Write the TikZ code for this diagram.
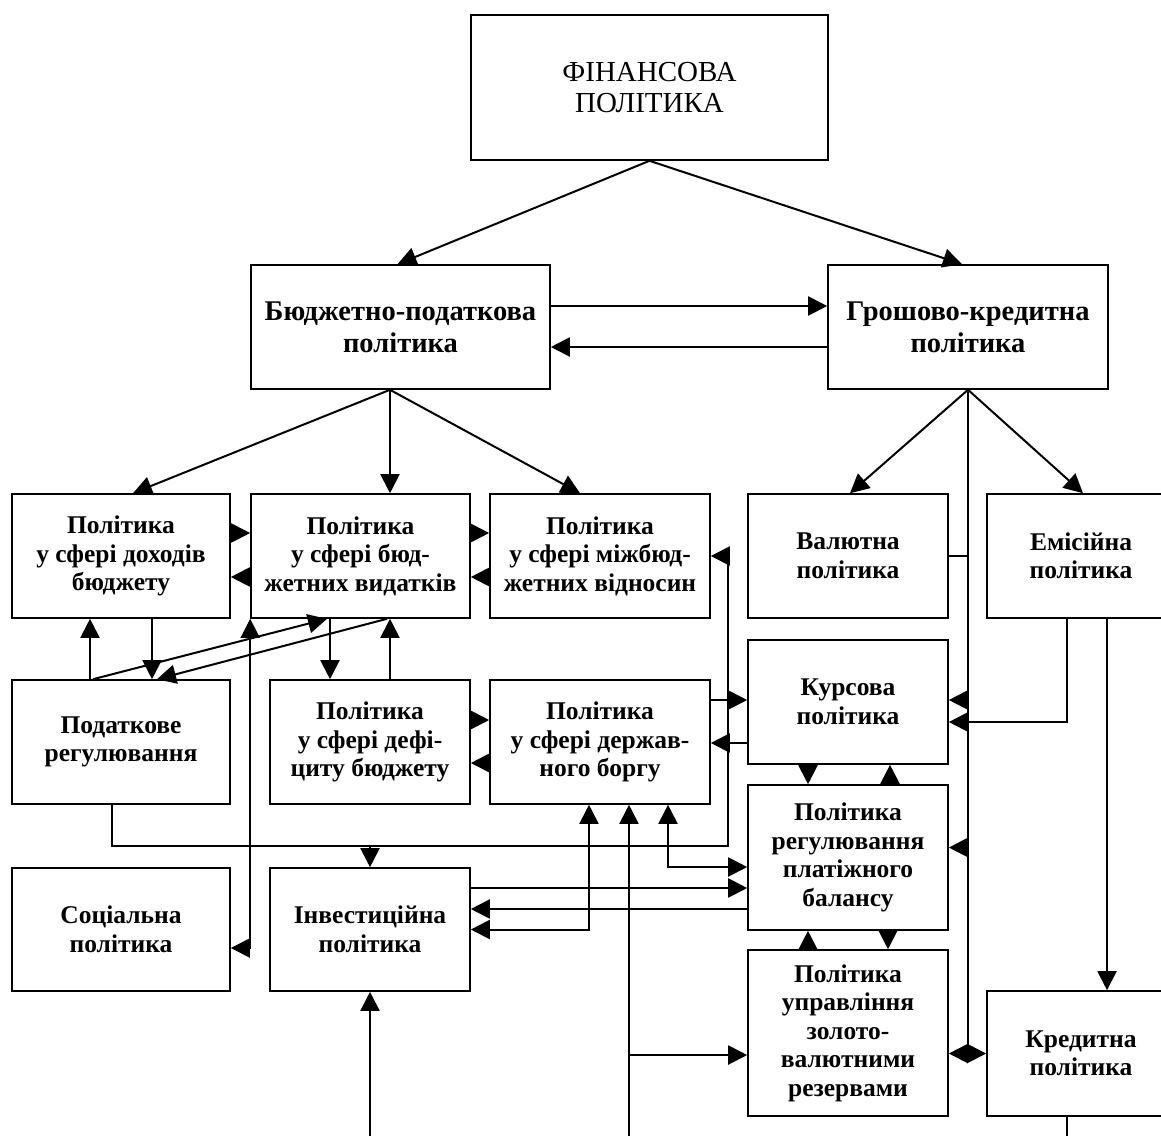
\documentclass[tikz,border=0pt]{standalone}
\usepackage{fontspec}
\setmainfont{Liberation Serif}
\usetikzlibrary{arrows.meta,calc}
\begin{document}
\begin{tikzpicture}[x=1pt,y=-1pt,
  box/.style={draw, line width=1.6pt, align=center, inner sep=0pt, font=\bfseries\fontsize{25.5}{28.5}\selectfont},
  bigbox/.style={box, font=\bfseries\fontsize{28.5}{32}\selectfont},
  arr/.style={line width=2pt, -{Triangle[length=19pt,width=19pt]}},
  arrb/.style={line width=2pt, {Triangle[length=19pt,width=19pt]}-{Triangle[length=19pt,width=19pt]}},
  ln/.style={line width=1.6pt}]
\useasboundingbox (0,0) rectangle (1161,1135);
\fill[white] (0,0) rectangle (1161,1135);

% boxes
\node[box, font=\fontsize{29}{31}\selectfont, minimum width=357pt, minimum height=145pt] (fin) at (649.5,87.5) {ФІНАНСОВА\\ПОЛІТИКА};
\node[bigbox, minimum width=299pt, minimum height=124pt] (bud) at (400.5,327) {Бюджетно-податкова\\політика};
\node[bigbox, minimum width=280pt, minimum height=124pt] (gro) at (968,327) {Грошово-кредитна\\політика};
\node[box, minimum width=218pt, minimum height=124pt] (doh) at (121,556) {Політика\\у сфері доходів\\бюджету};
\node[box, minimum width=219pt, minimum height=124pt] (vyd) at (360.5,556) {Політика\\у сфері бюд-\\жетних видатків};
\node[box, minimum width=220pt, minimum height=124pt] (mbj) at (600,556) {Політика\\у сфері міжбюд-\\жетних відносин};
\node[box, minimum width=200pt, minimum height=124pt] (val) at (848,556) {Валютна\\політика};
\node[box, minimum width=188pt, minimum height=124pt] (emi) at (1081,556) {Емісійна\\політика};
\node[box, minimum width=200pt, minimum height=124pt] (kur) at (848,702) {Курсова\\політика};
\node[box, minimum width=218pt, minimum height=124pt] (pod) at (121,742) {Податкове\\регулювання};
\node[box, minimum width=200pt, minimum height=124pt] (def) at (370,742) {Політика\\у сфері дефі-\\циту бюджету};
\node[box, minimum width=220pt, minimum height=124pt] (drz) at (600,742) {Політика\\у сфері держав-\\ного боргу};
\node[box, minimum width=200pt, minimum height=145pt] (pla) at (848,857.5) {Політика\\регулювання\\платіжного\\балансу};
\node[box, minimum width=218pt, minimum height=123pt] (soc) at (121,929.5) {Соціальна\\політика};
\node[box, minimum width=200pt, minimum height=123pt] (inv) at (370,929.5) {Інвестиційна\\політика};
\node[box, minimum width=200pt, minimum height=166pt] (zol) at (848,1033) {Політика\\управління\\золото-\\валютними\\резервами};
\node[box, minimum width=188pt, minimum height=125pt] (kre) at (1081,1053.5) {Кредитна\\політика};

\coordinate (bot) at (0,1145);

% top level
\draw[arr] (fin.south) -- ([xshift=-3pt]bud.north);
\draw[arr] (fin.south) -- ([xshift=-6pt]gro.north);
\draw[arr] ([yshift=21pt]bud.east) -- ([yshift=21pt]gro.west);
\draw[arr] ([yshift=-20pt]gro.west) -- ([yshift=-20pt]bud.east);

% budget branch
\coordinate (bs) at ([xshift=-10.5pt]bud.south);
\draw[arr] (bs) -- ([xshift=12pt]doh.north);
\draw[arr] (bs) -- (bs |- vyd.north);
\draw[arr] (bs) -- ([xshift=-20pt]mbj.north);

% monetary branch
\draw[arr] (gro.south) -- ([xshift=2pt]val.north);
\draw[arr] (gro.south) -- ([xshift=2pt]emi.north);
\coordinate (vd) at (gro.south |- kre.west);
\draw[ln] (gro.south) -- (vd);
\draw[ln] (val.east) -- (val.east -| gro.south);
\coordinate (kue) at ([yshift=2pt]kur.east);
\draw[arr] (kue -| gro.south) -- (kue);
\coordinate (pe) at ([yshift=10pt]pla.east);
\draw[arr] (pe -| gro.south) -- (pe);
\draw[arr] (vd) -- (vd -| zol.east);
\draw[arr] (vd) -- (kre.west);

% emission
\coordinate (e1) at ([xshift=-14pt]emi.south);
\coordinate (ke2) at ([yshift=-20pt]kur.east);
\draw[arr] (e1) |- (ke2);
\coordinate (e2) at ([xshift=26pt]emi.south);
\draw[arr] (e2) -- (e2 |- kre.north);
\coordinate (kb) at ([xshift=-14pt]kre.south);
\draw[ln] (kb) -- (kb |- bot);

% horizontal pairs, top row
\draw[arr] ([yshift=23pt]doh.east) -- ([yshift=23pt]vyd.west);
\draw[arr] ([yshift=-21pt]vyd.west) -- ([yshift=-21pt]doh.east);
\draw[arr] ([yshift=23pt]vyd.east) -- ([yshift=23pt]mbj.west);
\draw[arr] ([yshift=-21pt]mbj.west) -- ([yshift=-21pt]vyd.east);

% income <-> tax regulation
\coordinate (dp1) at ([xshift=-31pt]pod.north);
\draw[arr] (dp1) -- (dp1 |- doh.south);
\coordinate (dp2) at ([xshift=31pt]doh.south);
\draw[arr] (dp2) -- (dp2 |- pod.north);
\draw[arr] ([xshift=-28pt]pod.north) -- ([xshift=-33.5pt]vyd.south);
\draw[arr] ([xshift=26.5pt]vyd.south) -- ([xshift=36pt]pod.north);

% expenditures <-> social
\coordinate (se) at ([yshift=-18.5pt]soc.east);
\draw[arrb] (vyd.south west) |- (se);

% expenditures <-> deficit
\coordinate (v1) at ([xshift=-30.5pt]vyd.south);
\draw[arr] (v1) -- (v1 |- def.north);
\coordinate (v2) at ([xshift=29.5pt]vyd.south);
\draw[arr] (v2 |- def.north) -- (v2);

% deficit <-> debt
\draw[arr] ([yshift=22pt]def.east) -- ([yshift=22pt]drz.west);
\draw[arr] ([yshift=-21pt]drz.west) -- ([yshift=-21pt]def.east);

% debt <-> exchange rate
\coordinate (d1) at ([yshift=42pt]drz.east);
\draw[arr] (d1) -- (d1 -| kur.west);
\coordinate (d2) at ([yshift=-1pt]drz.east);
\draw[arr] (d2 -| kur.west) -- (d2);

% exchange rate <-> balance of payments
\coordinate (ku1) at ([xshift=-40pt]kur.south);
\draw[arr] (ku1) -- (ku1 |- pla.north);
\coordinate (ku2) at ([xshift=42pt]kur.south);
\draw[arr] (ku2 |- pla.north) -- (ku2);

% balance of payments <-> reserves
\coordinate (pz1) at ([xshift=-40pt]pla.south);
\draw[arr] (pz1 |- zol.north) -- (pz1);
\coordinate (pz2) at ([xshift=40pt]pla.south);
\draw[arr] (pz2) -- (pz2 |- zol.north);

% tax regulation route
\coordinate (p1) at ([xshift=-9pt]pod.south);
\coordinate (rt) at (728,846);
\draw[arr] (p1) |- (rt) |- (mbj.east);
\draw[arr] (inv.north |- rt) -- (inv.north);

% debt bottom connectors
\coordinate (b1) at ([xshift=-11pt]drz.south);
\draw[arrb] (b1) |- (inv.east);
\coordinate (b2) at ([xshift=29pt]drz.south);
\draw[arr] (b2 |- bot) -- (b2);
\coordinate (zw) at ([yshift=-22pt]zol.west);
\draw[arr] (b2 |- zw) -- (zw);
\coordinate (b3) at ([xshift=68pt]drz.south);
\coordinate (pw) at ([yshift=-9.5pt]pla.west);
\draw[arrb] (b3) |- (pw);

% investment <-> balance of payments
\coordinate (i1) at ([yshift=41.5pt]inv.east);
\draw[arr] (i1) -- (i1 -| pla.west);
\coordinate (i2) at ([yshift=20.5pt]inv.east);
\draw[arr] (i2 -| pla.west) -- (i2);
\draw[arr] (inv.south |- bot) -- (inv.south);
\end{tikzpicture}
\end{document}
